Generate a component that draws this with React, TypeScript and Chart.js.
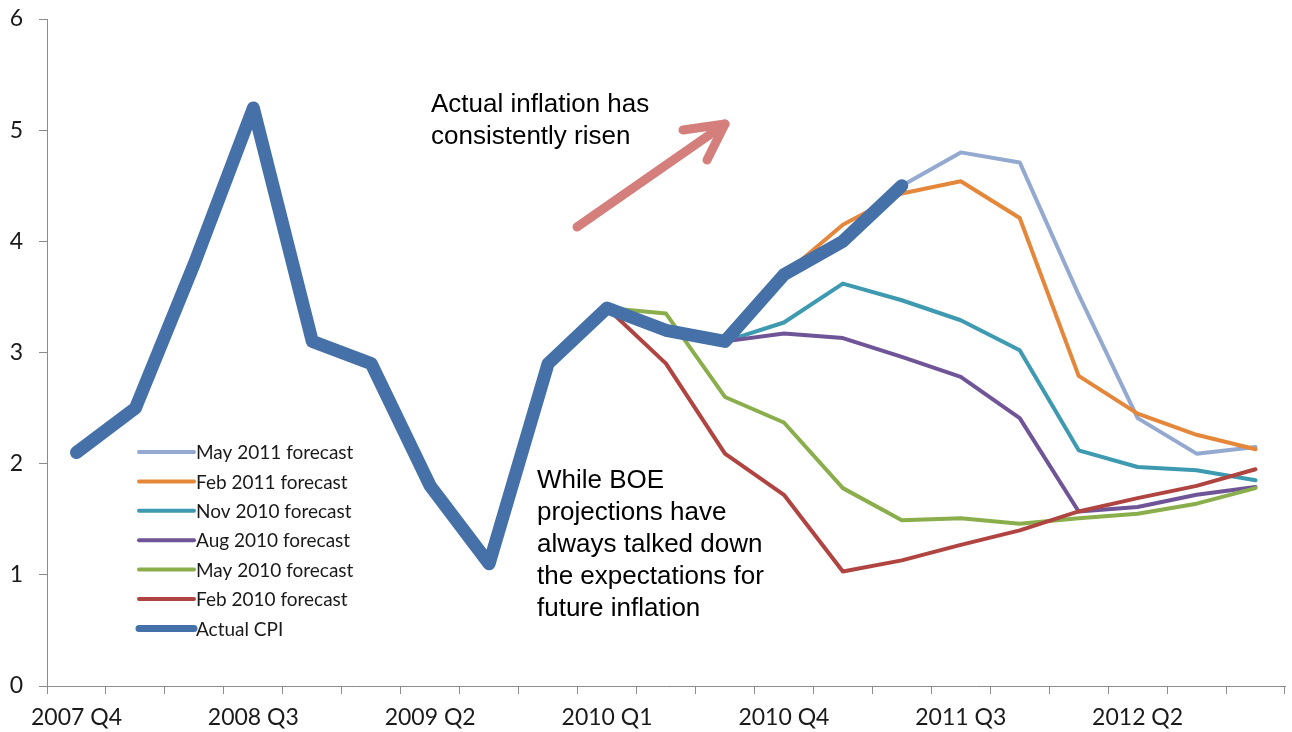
import React, { useEffect, useRef } from "react";
import { Chart, registerables } from "chart.js";

Chart.register(...registerables);

// Quarters on the category axis
const quarters = [
  "2007 Q4", "2008 Q1", "2008 Q2", "2008 Q3", "2008 Q4",
  "2009 Q1", "2009 Q2", "2009 Q3", "2009 Q4",
  "2010 Q1", "2010 Q2", "2010 Q3", "2010 Q4",
  "2011 Q1", "2011 Q2", "2011 Q3", "2011 Q4",
  "2012 Q1", "2012 Q2", "2012 Q3", "2012 Q4",
];

// CPI inflation, % (outturn)
const actualCpi = [2.1, 2.5, 3.8, 5.2, 3.1, 2.9, 1.8, 1.1, 2.9, 3.4, 3.2, 3.1, 3.7, 4.0, 4.5,
  null, null, null, null, null, null];

// Bank of England projections, %
const feb2010 = [null, null, null, null, null, null, null, null, null,
  3.4, 2.9, 2.09, 1.72, 1.03, 1.13, 1.27, 1.4, 1.57, 1.69, 1.8, 1.95];
const may2010 = [null, null, null, null, null, null, null, null, null,
  3.4, 3.35, 2.6, 2.37, 1.78, 1.49, 1.51, 1.46, 1.51, 1.55, 1.64, 1.78];
const aug2010 = [null, null, null, null, null, null, null, null, null, null, null,
  3.1, 3.17, 3.13, 2.96, 2.78, 2.41, 1.57, 1.61, 1.72, 1.79];
const nov2010 = [null, null, null, null, null, null, null, null, null, null, null,
  3.1, 3.27, 3.62, 3.47, 3.29, 3.02, 2.12, 1.97, 1.94, 1.85];
const feb2011 = [null, null, null, null, null, null, null, null, null, null, null, null,
  3.7, 4.15, 4.43, 4.54, 4.21, 2.79, 2.45, 2.26, 2.13];
const may2011 = [null, null, null, null, null, null, null, null, null, null, null, null, null, null,
  4.5, 4.8, 4.71, 3.52, 2.41, 2.09, 2.15];

const yTicks = [0, 1, 2, 3, 4, 5, 6];

const seriesNames = [
  "May 2011 forecast",
  "Feb 2011 forecast",
  "Nov 2010 forecast",
  "Aug 2010 forecast",
  "May 2010 forecast",
  "Feb 2010 forecast",
  "Actual CPI",
];

const COLORS = {
  may2011: "#93A9CF",
  feb2011: "#E5873A",
  nov2010: "#3D9AB0",
  aug2010: "#6F5597",
  may2010: "#8AAE4C",
  feb2010: "#B04441",
  actual: "#4571A8",
};

const AXIS_GREY = "#8C8C8C";
const TEXT = "#1A1A1A";
const UI_FONT = "Lato, 'Open Sans', sans-serif";
const NOTE_FONT = "'Liberation Sans', Arial, sans-serif";

// Legend box and free-text notes drawn on top of the plot
const overlayPlugin = {
  id: "overlay",
  afterDatasetsDraw(chart: any) {
    const ctx = chart.ctx as CanvasRenderingContext2D;
    ctx.save();

    // legend
    const sets = chart.data.datasets;
    const rowTop = 452;
    const rowGap = 29.4;
    sets.forEach((ds: any, i: number) => {
      const y = rowTop + rowGap * i;
      ctx.beginPath();
      ctx.strokeStyle = ds.borderColor;
      ctx.lineWidth = ds.label === "Actual CPI" ? 7 : 4;
      ctx.lineCap = "round";
      ctx.moveTo(139, y);
      ctx.lineTo(194, y);
      ctx.stroke();
      ctx.fillStyle = TEXT;
      ctx.font = `19px ${UI_FONT}`;
      ctx.textAlign = "left";
      ctx.textBaseline = "middle";
      ctx.fillText(ds.label, 196, y + 1);
    });

    // arrow
    ctx.strokeStyle = "#D47F7B";
    ctx.lineWidth = 9;
    ctx.lineCap = "round";
    ctx.lineJoin = "round";
    ctx.beginPath();
    ctx.moveTo(577, 227);
    ctx.lineTo(725, 124);
    ctx.stroke();
    ctx.beginPath();
    ctx.moveTo(683, 130);
    ctx.lineTo(725, 124);
    ctx.lineTo(707, 160);
    ctx.stroke();

    // notes
    ctx.fillStyle = "#000";
    ctx.font = `26px ${NOTE_FONT}`;
    ctx.textAlign = "left";
    ctx.textBaseline = "middle";
    ["Actual inflation has", "consistently risen"].forEach((t, i) =>
      ctx.fillText(t, 431, 105 + 32 * i)
    );
    [
      "While BOE",
      "projections have",
      "always talked down",
      "the expectations for",
      "future inflation",
    ].forEach((t, i) => ctx.fillText(t, 537, 481 + 32 * i));

    ctx.restore();
  },
};

export default function App() {
  const ref = useRef<HTMLCanvasElement | null>(null);

  useEffect(() => {
    document.body.style.margin = "0";
    if (!ref.current) return;

    const line = (label: string, data: (number | null)[], color: string, width: number, order: number) => ({
      label,
      data,
      borderColor: color,
      backgroundColor: color,
      borderWidth: width,
      pointRadius: 0,
      pointHoverRadius: 0,
      borderJoinStyle: "round" as const,
      borderCapStyle: "round" as const,
      tension: 0,
      fill: false,
      spanGaps: false,
      order,
    });

    const chart = new Chart(ref.current, {
      type: "line",
      data: {
        labels: quarters,
        datasets: [
          line(seriesNames[0], may2011, COLORS.may2011, 4, 6),
          line(seriesNames[1], feb2011, COLORS.feb2011, 4, 5),
          line(seriesNames[2], nov2010, COLORS.nov2010, 4, 4),
          line(seriesNames[3], aug2010, COLORS.aug2010, 4, 3),
          line(seriesNames[4], may2010, COLORS.may2010, 4, 2),
          line(seriesNames[5], feb2010, COLORS.feb2010, 4, 1),
          line(seriesNames[6], actualCpi, COLORS.actual, 13, 0),
        ],
      },
      options: {
        responsive: false,
        animation: false,
        devicePixelRatio: 1,
        layout: { padding: { top: 19, right: 7, left: 0, bottom: 0 } },
        plugins: {
          legend: { display: false },
          tooltip: { enabled: false },
        },
        scales: {
          x: {
            type: "category",
            offset: true,
            grid: {
              offset: true,
              drawOnChartArea: false,
              drawTicks: true,
              tickLength: 8,
              color: AXIS_GREY,
              tickColor: AXIS_GREY,
            },
            border: { color: AXIS_GREY, width: 1 },
            ticks: {
              autoSkip: false,
              maxRotation: 0,
              minRotation: 0,
              padding: 10,
              color: TEXT,
              font: { family: UI_FONT, size: 23 },
              callback: (_v: any, i: number) => (i % 3 === 0 ? quarters[i] : ""),
            },
            afterFit: (s: any) => {
              s.height = 46;
              s.paddingLeft = 0;
              s.paddingRight = 0;
            },
          },
          y: {
            min: yTicks[0],
            max: yTicks[yTicks.length - 1],
            afterBuildTicks: (s: any) => {
              s.ticks = yTicks.map((v) => ({ value: v }));
            },
            grid: {
              drawOnChartArea: false,
              drawTicks: true,
              tickLength: 8,
              color: AXIS_GREY,
              tickColor: AXIS_GREY,
            },
            border: { color: AXIS_GREY, width: 1 },
            ticks: {
              padding: 16,
              color: TEXT,
              font: { family: UI_FONT, size: 23 },
            },
            afterFit: (s: any) => {
              s.width = 47;
              s.paddingTop = 0;
              s.paddingBottom = 0;
            },
          },
        },
      },
      plugins: [overlayPlugin],
    });

    return () => chart.destroy();
  }, []);

  return (
    <div style={{ width: 1292, height: 732 }}>
      <canvas ref={ref} width={1292} height={732} style={{ display: "block" }} />
    </div>
  );
}
